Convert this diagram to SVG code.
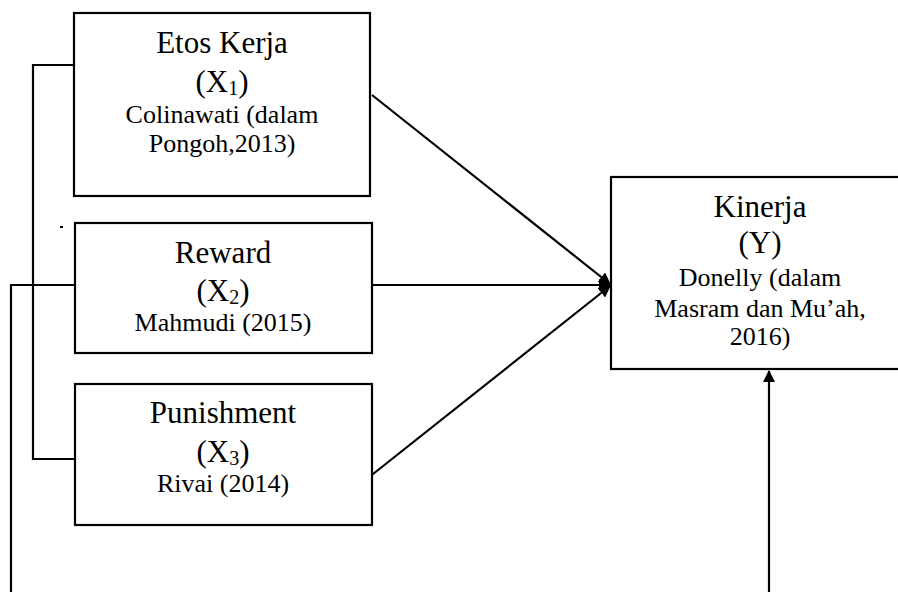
<svg xmlns="http://www.w3.org/2000/svg" width="898" height="592" viewBox="0 0 898 592">
<style>
.box{fill:#fff;stroke:#000;stroke-width:2.2}
.ln{fill:none;stroke:#000;stroke-width:2.2}
text{font-family:"Liberation Serif","Times New Roman",serif;fill:#000;text-anchor:middle}
.t{font-size:31px}
.s{font-size:26px}
.sub{font-size:20px}
</style>
<defs>
<marker id="ah" viewBox="0 0 12 12" refX="11" refY="6" markerWidth="12" markerHeight="12" markerUnits="userSpaceOnUse" orient="auto">
<path d="M0,0 L12,6 L0,12 Z" fill="#000"/>
</marker>
</defs>
<rect x="0" y="0" width="898" height="592" fill="#fff"/>
<g id="connectors">
<polyline class="ln" points="74,65 33,65 33,459 75,459"/>
<polyline class="ln" points="11,592 11,285 75,285"/>
<line class="ln" x1="372" y1="95" x2="610" y2="284" marker-end="url(#ah)"/>
<line class="ln" x1="372" y1="285" x2="610" y2="285" marker-end="url(#ah)"/>
<line class="ln" x1="368" y1="478" x2="610" y2="286" marker-end="url(#ah)"/>
<line class="ln" x1="769" y1="592" x2="769" y2="371" marker-end="url(#ah)"/>
<rect x="60" y="226" width="3" height="2" fill="#000"/>
</g>
<g id="etos">
<rect class="box" x="74" y="13" width="296" height="183"/>
<text class="t" x="222" y="53">Etos Kerja</text>
<text class="t" x="222" y="92">(X<tspan class="sub" dy="3">1</tspan><tspan dy="-3">)</tspan></text>
<text class="s" x="222" y="123">Colinawati (dalam</text>
<text class="s" x="222" y="152">Pongoh,2013)</text>
</g>
<g id="reward">
<rect class="box" x="75" y="223" width="297" height="130"/>
<text class="t" x="223" y="263">Reward</text>
<text class="t" x="223" y="301">(X<tspan class="sub" dy="3">2</tspan><tspan dy="-3">)</tspan></text>
<text class="s" x="223" y="331">Mahmudi (2015)</text>
</g>
<g id="punishment">
<rect class="box" x="75" y="384" width="297" height="141"/>
<text class="t" x="223" y="423">Punishment</text>
<text class="t" x="223" y="462">(X<tspan class="sub" dy="3">3</tspan><tspan dy="-3">)</tspan></text>
<text class="s" x="223" y="492">Rivai (2014)</text>
</g>
<g id="kinerja">
<rect class="box" x="611" y="177" width="300" height="192"/>
<text class="t" x="760" y="217">Kinerja</text>
<text class="t" x="760" y="253">(Y)</text>
<text class="s" x="760" y="286">Donelly (dalam</text>
<text class="s" x="760" y="317">Masram dan Mu’ah,</text>
<text class="s" x="760" y="345">2016)</text>
</g>
</svg>
